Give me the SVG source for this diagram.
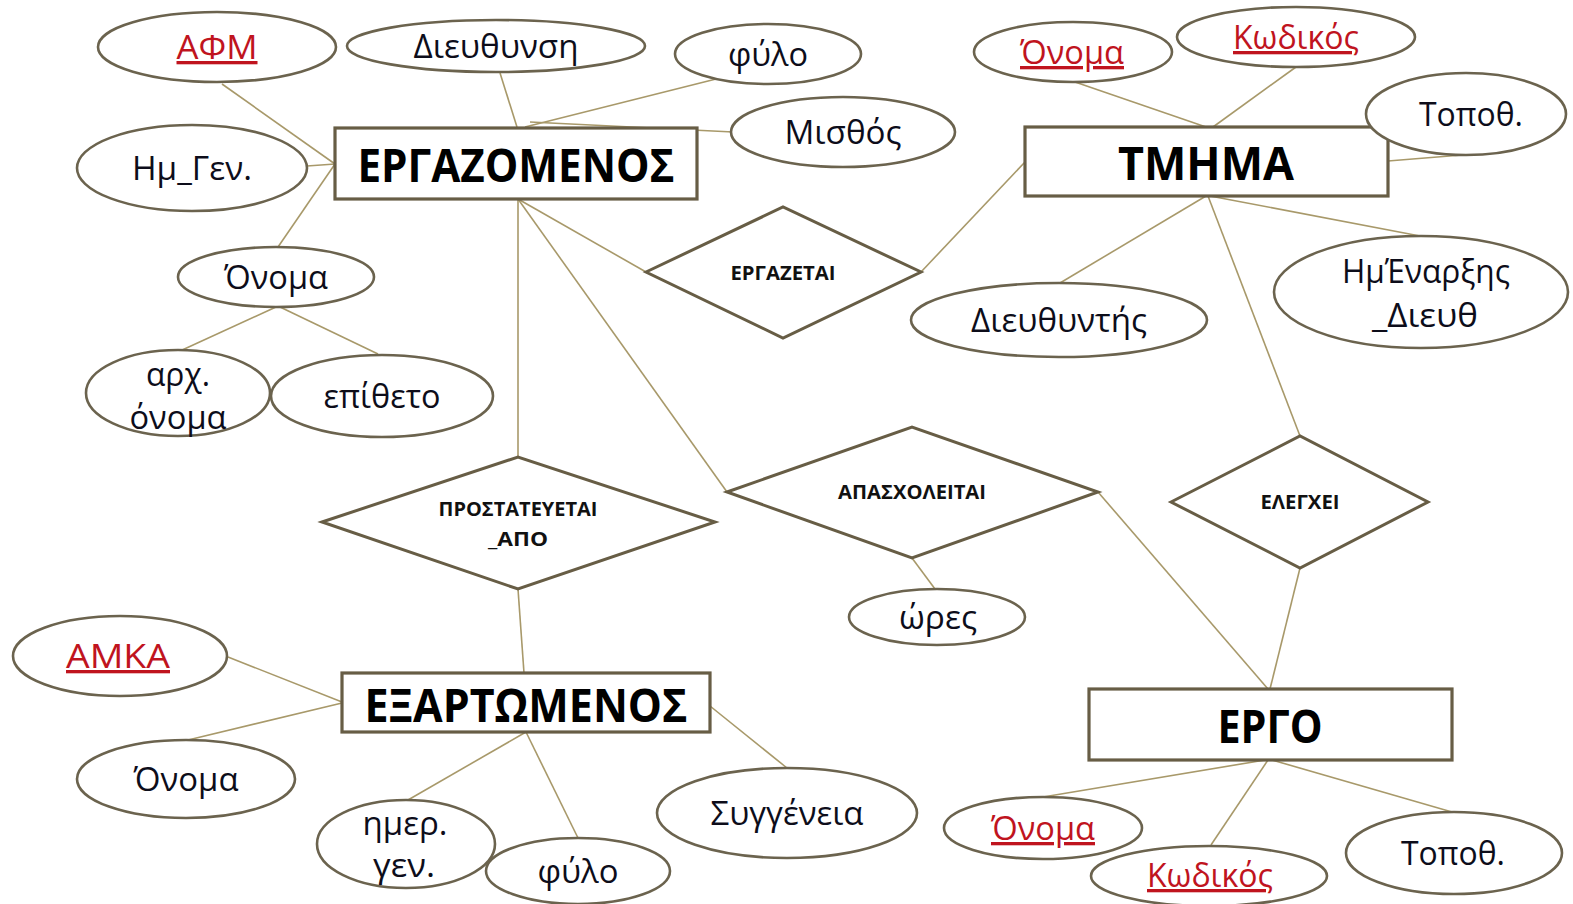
<svg xmlns="http://www.w3.org/2000/svg" width="1573" height="904" viewBox="0 0 1573 904">
<style>
.bg{fill:#fff}
.conn line{stroke:#a8996a;stroke-width:1.6;fill:none}
.ent rect{fill:#fff;stroke:#675d45;stroke-width:3.2}
.att ellipse{fill:#fff;stroke:#6b634e;stroke-width:2.6}
.rel polygon{fill:#fff;stroke:#675d45;stroke-width:3}
text{font-family:"Liberation Sans Narrow","Open Sans","Liberation Sans",sans-serif;fill:#0d0d1a;text-anchor:middle}
.a{font-size:33px}
.e{font-size:47px;font-weight:bold;fill:#000}
.r{font-size:20px;font-weight:bold;fill:#111}
.k{fill:#c0141e;text-decoration:underline}
</style>
<rect class="bg" x="0" y="0" width="1573" height="904"/>
<g id="connectors" class="conn">
<line x1="222" y1="84" x2="335" y2="164"/>
<line x1="307" y1="166" x2="335" y2="164"/>
<line x1="278" y1="247" x2="335" y2="164"/>
<line x1="276" y1="307" x2="180" y2="351"/>
<line x1="280" y1="307" x2="378" y2="354"/>
<line x1="500" y1="73" x2="517" y2="127"/>
<line x1="728" y1="76" x2="525" y2="127"/>
<line x1="530" y1="122" x2="733" y2="132"/>
<line x1="518" y1="199" x2="518" y2="457"/>
<line x1="518" y1="199" x2="646" y2="272"/>
<line x1="518" y1="199" x2="727" y2="492"/>
<line x1="921" y1="272" x2="1025" y2="162"/>
<line x1="1075" y1="82" x2="1206" y2="127"/>
<line x1="1296" y1="67" x2="1213" y2="127"/>
<line x1="1388" y1="161" x2="1462" y2="155"/>
<line x1="1206" y1="196" x2="1060" y2="283"/>
<line x1="1210" y1="196" x2="1420" y2="236"/>
<line x1="1208" y1="196" x2="1300" y2="436"/>
<line x1="1300" y1="568" x2="1270" y2="689"/>
<line x1="1098" y1="492" x2="1268" y2="689"/>
<line x1="912" y1="558" x2="935" y2="589"/>
<line x1="518" y1="589" x2="524" y2="673"/>
<line x1="228" y1="657" x2="342" y2="702"/>
<line x1="188" y1="740" x2="342" y2="703"/>
<line x1="408" y1="800" x2="526" y2="732"/>
<line x1="578" y1="838" x2="526" y2="732"/>
<line x1="787" y1="768" x2="710" y2="706"/>
<line x1="1043" y1="797" x2="1265" y2="760"/>
<line x1="1211" y1="845" x2="1268" y2="760"/>
<line x1="1452" y1="812" x2="1272" y2="760"/>
</g>
<g id="ergazomenos" class="ent"><rect x="335" y="128" width="362" height="71"/><text class="e" x="516" y="182" textLength="317" lengthAdjust="spacingAndGlyphs">ΕΡΓΑΖΟΜΕΝΟΣ</text></g>
<g id="tmima" class="ent"><rect x="1025" y="127" width="363" height="69"/><text class="e" x="1206" y="180" textLength="176" lengthAdjust="spacingAndGlyphs">ΤΜΗΜΑ</text></g>
<g id="eksartomenos" class="ent"><rect x="342" y="673" width="368" height="59"/><text class="e" x="526" y="722" textLength="323" lengthAdjust="spacingAndGlyphs">ΕΞΑΡΤΩΜΕΝΟΣ</text></g>
<g id="ergo" class="ent"><rect x="1089" y="689" width="363" height="71"/><text class="e" x="1270" y="743" textLength="105" lengthAdjust="spacingAndGlyphs">ΕΡΓΟ</text></g>
<g id="afm" class="att"><ellipse cx="217" cy="47" rx="119" ry="35"/><text class="a k" x="217" y="59" textLength="81" lengthAdjust="spacingAndGlyphs">ΑΦΜ</text></g>
<g id="dieythynsi" class="att"><ellipse cx="496" cy="46" rx="149" ry="26"/><text class="a" x="496" y="58" textLength="165" lengthAdjust="spacingAndGlyphs">Διευθυνση</text></g>
<g id="fylo1" class="att"><ellipse cx="768" cy="54" rx="93" ry="30"/><text class="a" x="768" y="66" textLength="80" lengthAdjust="spacingAndGlyphs">φύλο</text></g>
<g id="misthos" class="att"><ellipse cx="843" cy="132" rx="112" ry="35"/><text class="a" x="843" y="144" textLength="117" lengthAdjust="spacingAndGlyphs">Μισθός</text></g>
<g id="imgen" class="att"><ellipse cx="192" cy="168" rx="115" ry="43"/><text class="a" x="192" y="180" textLength="120" lengthAdjust="spacingAndGlyphs">Ημ_Γεν.</text></g>
<g id="onoma1" class="att"><ellipse cx="276" cy="277" rx="98" ry="30"/><text class="a" x="276" y="289" textLength="104" lengthAdjust="spacingAndGlyphs">Όνομα</text></g>
<g id="arxonoma" class="att"><ellipse cx="178" cy="393" rx="92" ry="43"/><text class="a" x="178" y="386" textLength="64" lengthAdjust="spacingAndGlyphs">αρχ.</text><text class="a" x="178" y="429" textLength="97" lengthAdjust="spacingAndGlyphs">όνομα</text></g>
<g id="epitheto" class="att"><ellipse cx="382" cy="396" rx="111" ry="41"/><text class="a" x="382" y="408" textLength="117" lengthAdjust="spacingAndGlyphs">επίθετο</text></g>
<g id="onoma2" class="att"><ellipse cx="1073" cy="52" rx="99" ry="30"/><text class="a k" x="1072" y="64" textLength="104" lengthAdjust="spacingAndGlyphs">Όνομα</text></g>
<g id="kodikos1" class="att"><ellipse cx="1296" cy="37" rx="119" ry="30"/><text class="a k" x="1296" y="49" textLength="126" lengthAdjust="spacingAndGlyphs">Κωδικός</text></g>
<g id="topoth1" class="att"><ellipse cx="1466" cy="114" rx="100" ry="41"/><text class="a" x="1471" y="126" textLength="104" lengthAdjust="spacingAndGlyphs">Τοποθ.</text></g>
<g id="dieythyntis" class="att"><ellipse cx="1059" cy="320" rx="148" ry="37"/><text class="a" x="1059" y="332" textLength="176" lengthAdjust="spacingAndGlyphs">Διευθυντής</text></g>
<g id="imenarxis" class="att"><ellipse cx="1421" cy="292" rx="147" ry="56"/><text class="a" x="1426" y="283" textLength="168" lengthAdjust="spacingAndGlyphs">ΗμΈναρξης</text><text class="a" x="1425" y="327" textLength="106" lengthAdjust="spacingAndGlyphs">_Διευθ</text></g>
<g id="ores" class="att"><ellipse cx="937" cy="617" rx="88" ry="28"/><text class="a" x="938" y="629" textLength="78" lengthAdjust="spacingAndGlyphs">ώρες</text></g>
<g id="amka" class="att"><ellipse cx="120" cy="656" rx="107" ry="40"/><text class="a k" x="118" y="668" textLength="104" lengthAdjust="spacingAndGlyphs">ΑΜΚΑ</text></g>
<g id="onoma3" class="att"><ellipse cx="186" cy="779" rx="109" ry="39"/><text class="a" x="186" y="791" textLength="105" lengthAdjust="spacingAndGlyphs">Όνομα</text></g>
<g id="imergen" class="att"><ellipse cx="406" cy="844" rx="89" ry="44"/><text class="a" x="405" y="835" textLength="85" lengthAdjust="spacingAndGlyphs">ημερ.</text><text class="a" x="404" y="877" textLength="62" lengthAdjust="spacingAndGlyphs">γεν.</text></g>
<g id="fylo2" class="att"><ellipse cx="578" cy="871" rx="92" ry="33"/><text class="a" x="578" y="883" textLength="81" lengthAdjust="spacingAndGlyphs">φύλο</text></g>
<g id="syggeneia" class="att"><ellipse cx="787" cy="813" rx="130" ry="45"/><text class="a" x="787" y="825" textLength="153" lengthAdjust="spacingAndGlyphs">Συγγένεια</text></g>
<g id="onoma4" class="att"><ellipse cx="1043" cy="828" rx="99" ry="31"/><text class="a k" x="1043" y="840" textLength="104" lengthAdjust="spacingAndGlyphs">Όνομα</text></g>
<g id="kodikos2" class="att"><ellipse cx="1209" cy="876" rx="118" ry="30"/><text class="a k" x="1210" y="887" textLength="126" lengthAdjust="spacingAndGlyphs">Κωδικός</text></g>
<g id="topoth2" class="att"><ellipse cx="1454" cy="853" rx="108" ry="41"/><text class="a" x="1453" y="865" textLength="104" lengthAdjust="spacingAndGlyphs">Τοποθ.</text></g>
<g id="ergazetai" class="rel"><polygon points="646,272 783,207 921,272 783,338"/><text class="r" x="783" y="280" textLength="105" lengthAdjust="spacingAndGlyphs">ΕΡΓΑΖΕΤΑΙ</text></g>
<g id="apasxoleitai" class="rel"><polygon points="727,492 912,427 1098,492 912,558"/><text class="r" x="912" y="499" textLength="148" lengthAdjust="spacingAndGlyphs">ΑΠΑΣΧΟΛΕΙΤΑΙ</text></g>
<g id="prostateyetai" class="rel"><polygon points="322,522 518,457 715,522 518,589"/><text class="r" x="518" y="516" textLength="159" lengthAdjust="spacingAndGlyphs">ΠΡΟΣΤΑΤΕΥΕΤΑΙ</text><text class="r" x="518" y="546" textLength="60" lengthAdjust="spacingAndGlyphs">_ΑΠΟ</text></g>
<g id="elegxei" class="rel"><polygon points="1171,502 1300,436 1428,502 1300,568"/><text class="r" x="1300" y="509" textLength="79" lengthAdjust="spacingAndGlyphs">ΕΛΕΓΧΕΙ</text></g>
</svg>
